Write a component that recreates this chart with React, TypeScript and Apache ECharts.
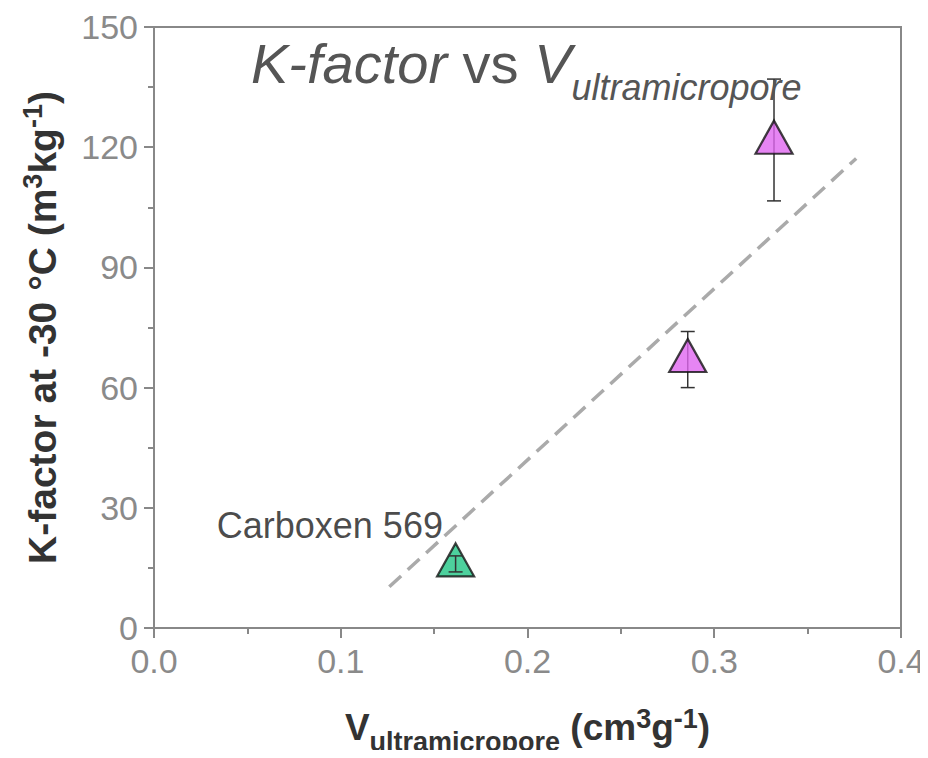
import React, { useEffect, useRef } from "react";
import * as echarts from "echarts";

// Data
const carboxenName = ["Carboxen 569"];
const carboxenX = [0.1615];
const carboxenY = [17];
const carboxenLow = [14];
const carboxenHigh = [18];

const otherX = [0.2858, 0.332];
const otherY = [68, 122.5];
const otherLow = [60, 106.6];
const otherHigh = [74, 137];

const fitX = [0.126, 0.376];
const fitY = [10.3, 117.2];

const xTicks = [0, 0.1, 0.2, 0.3, 0.4];
const yTicks = [0, 30, 60, 90, 120, 150];

const FONT = "'Liberation Sans', Arial, Helvetica, sans-serif";

function errorRenderer(color: string) {
  return (params: any, api: any) => {
    const x = api.value(0);
    const lo = api.value(1);
    const hi = api.value(2);
    const pLo = api.coord([x, lo]);
    const pHi = api.coord([x, hi]);
    const cap = 7;
    const style = { stroke: color, lineWidth: 1.5 };
    return {
      type: "group",
      children: [
        { type: "line", shape: { x1: pLo[0], y1: pLo[1], x2: pHi[0], y2: pHi[1] }, style },
        { type: "line", shape: { x1: pLo[0] - cap, y1: pLo[1], x2: pLo[0] + cap, y2: pLo[1] }, style },
        { type: "line", shape: { x1: pHi[0] - cap, y1: pHi[1], x2: pHi[0] + cap, y2: pHi[1] }, style },
      ],
    };
  };
}

export default function App() {
  const ref = useRef<HTMLDivElement>(null);

  useEffect(() => {
    if (!ref.current) return;
    const chart = echarts.init(ref.current, null, { renderer: "svg" });

    const axisColor = "#888888";
    const labelColor = "#8a8a8a";
    const titleColor = "#555555";

    const option: any = {
      animation: false,
      backgroundColor: "#ffffff",
      textStyle: { fontFamily: FONT },
      title: {
        left: 246,
        top: 16,
        text: "{it|K-factor}{n| vs }{it|V}{sub|ultramicropore}",
        textStyle: {
          fontWeight: "normal",
          fontSize: 56,
          fontFamily: FONT,
          color: titleColor,
          rich: {
            it: { fontSize: 56, fontStyle: "italic", fontWeight: "normal", color: titleColor, fontFamily: FONT, verticalAlign: "middle" },
            n: { fontSize: 56, fontStyle: "normal", fontWeight: "normal", color: titleColor, fontFamily: FONT, verticalAlign: "middle" },
            sub: {
              fontSize: 36,
              fontStyle: "italic",
              fontWeight: "normal",
              color: titleColor,
              fontFamily: FONT,
              verticalAlign: "middle",
              padding: [48, 0, 0, 0],
            },
          },
        },
      },
      grid: {
        left: 154,
        right: 27,
        top: 27,
        bottom: 130,
        outerBoundsMode: "none",
        containLabel: false,
        show: true,
        borderColor: axisColor,
        borderWidth: 2,
        backgroundColor: "transparent",
      },
      xAxis: {
        type: "value",
        min: xTicks[0],
        max: xTicks[xTicks.length - 1],
        interval: 0.1,
        name: "{b|V}{sub|ultramicropore}{b| (cm}{sup|3}{b|g}{sup|-1}{b|)}",
        nameLocation: "middle",
        nameGap: 72,
        nameTextStyle: {
          rich: {
            b: { fontSize: 37, fontWeight: "bold", color: "#333333", fontFamily: FONT, verticalAlign: "middle" },
            sub: {
              fontSize: 27,
              fontWeight: "bold",
              color: "#333333",
              fontFamily: FONT,
              verticalAlign: "middle",
              padding: [28, 0, 0, 0],
            },
            sup: {
              fontSize: 27,
              fontWeight: "bold",
              color: "#333333",
              fontFamily: FONT,
              verticalAlign: "middle",
              padding: [0, 0, 18, 0],
            },
          },
        },
        axisLine: { show: true, lineStyle: { color: axisColor, width: 2 } },
        axisTick: { show: true, inside: false, length: 10, lineStyle: { color: axisColor, width: 2 } },
        minorTick: { show: true, splitNumber: 2, length: 6, lineStyle: { color: axisColor, width: 2 } },
        splitLine: { show: false },
        minorSplitLine: { show: false },
        axisLabel: {
          margin: 16,
          fontSize: 34,
          color: labelColor,
          fontFamily: FONT,
          formatter: (v: number) => v.toFixed(1),
        },
      },
      yAxis: {
        type: "value",
        min: yTicks[0],
        max: yTicks[yTicks.length - 1],
        interval: 30,
        name: "{b|K-factor at -30 °C (m}{sup|3}{b|kg}{sup|-1}{b|)}",
        nameLocation: "middle",
        nameRotate: 90,
        nameGap: 88,
        nameTextStyle: {
          rich: {
            b: { fontSize: 39, fontWeight: "bold", color: "#333333", fontFamily: FONT, verticalAlign: "middle" },
            sup: {
              fontSize: 27,
              fontWeight: "bold",
              color: "#333333",
              fontFamily: FONT,
              verticalAlign: "middle",
              padding: [0, 0, 20, 0],
            },
          },
        },
        axisLine: { show: true, lineStyle: { color: axisColor, width: 2 } },
        axisTick: { show: true, inside: false, length: 10, lineStyle: { color: axisColor, width: 2 } },
        minorTick: { show: true, splitNumber: 2, length: 6, lineStyle: { color: axisColor, width: 2 } },
        splitLine: { show: false },
        minorSplitLine: { show: false },
        axisLabel: {
          margin: 16,
          fontSize: 34,
          color: labelColor,
          fontFamily: FONT,
        },
      },
      series: [
        {
          name: "fit",
          type: "line",
          data: fitX.map((x, i) => [x, fitY[i]]),
          symbol: "none",
          lineStyle: { color: "#aaaaaa", width: 3.5, type: [16, 9] },
          z: 1,
        },
        {
          name: "errOther",
          type: "custom",
          data: otherX.map((x, i) => [x, otherLow[i], otherHigh[i]]),
          encode: { x: 0, y: [1, 2] },
          renderItem: errorRenderer("#333333"),
          z: 2,
        },
        {
          name: "other",
          type: "scatter",
          data: otherX.map((x, i) => [x, otherY[i]]),
          symbol: "triangle",
          symbolSize: [37, 33],
          itemStyle: { color: "#e066f0", borderColor: "#111111", borderWidth: 2.2 },
          z: 3,
        },
        {
          name: "carboxen",
          type: "scatter",
          data: carboxenX.map((x, i) => ({ value: [x, carboxenY[i]], name: carboxenName[i] })),
          symbol: "triangle",
          symbolSize: [37, 33],
          itemStyle: { color: "#20c585", borderColor: "#111111", borderWidth: 2.2 },
          label: {
            show: true,
            position: "left",
            distance: 5,
            offset: [12, -34],
            formatter: (p: any) => p.name,
            fontSize: 36,
            color: "#1a1a1a",
            fontFamily: FONT,
          },
          z: 3,
        },
        {
          name: "errCarboxen",
          type: "custom",
          data: carboxenX.map((x, i) => [x, carboxenLow[i], carboxenHigh[i]]),
          encode: { x: 0, y: [1, 2] },
          renderItem: errorRenderer("#333333"),
          z: 4,
        },
      ],
    };

    chart.setOption(option);
    return () => chart.dispose();
  }, []);

  return <div ref={ref} style={{ width: 928, height: 758, margin: -8 }} />;
}
